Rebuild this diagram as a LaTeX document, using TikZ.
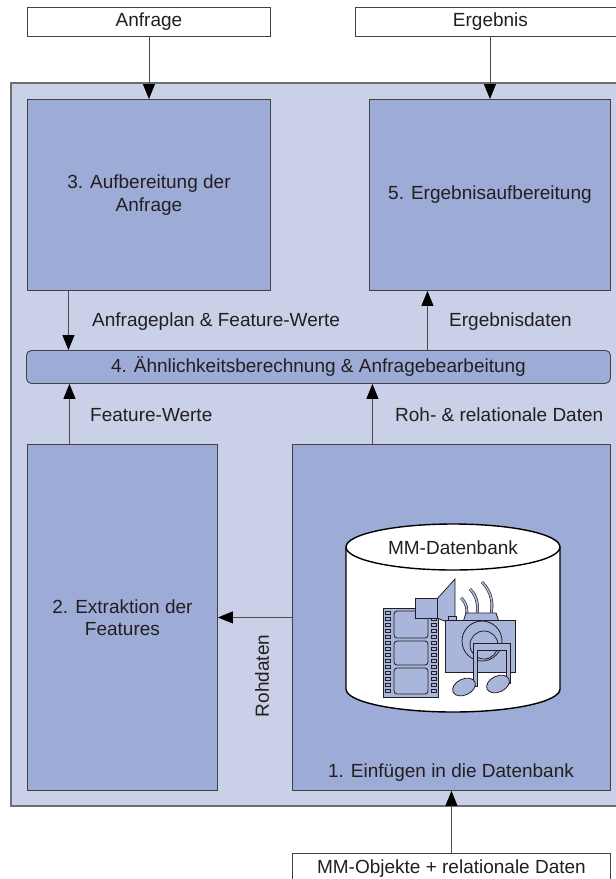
\documentclass[tikz,border=0pt]{standalone}
\usepackage{fontspec}
\setmainfont{Liberation Sans}
\usetikzlibrary{arrows.meta}
\definecolor{panelfill}{HTML}{C9D0E8}
\definecolor{boxfill}{HTML}{9DABD7}
\definecolor{iconfill}{HTML}{A9B5DA}
\definecolor{ink}{HTML}{231F20}
\definecolor{panelline}{HTML}{6D6E71}
\begin{document}
\begin{tikzpicture}[x=1pt,y=-1pt,
  font=\fontsize{19}{22.5}\selectfont, text=ink,
  box/.style={draw=ink!85, fill=boxfill, line width=0.9pt, anchor=north west,
    inner sep=0pt, align=center},
  iobox/.style={draw=ink!85, fill=white, line width=0.9pt, anchor=north west, inner sep=0pt},
  arr/.style={draw=ink!80, line width=0.8pt,
    -{Triangle[length=15pt 0, width=12pt 0, color=black]}},
  lbl/.style={anchor=west, inner sep=0pt},
  icon/.style={draw=ink, fill=iconfill, line width=0.8pt},
  wave/.style={draw=ink, double=iconfill, double distance=1.6pt, line width=0.6pt},
]
\useasboundingbox (0,0) rectangle (616,879);

% system panel
\path[fill=panelfill, draw=panelline, line width=1.6pt] (11,83) rectangle (640,806);

% input / output boxes
\node[iobox, minimum width=243pt, minimum height=29pt] (anf) at (27,7) {Anfrage};
\node[iobox, minimum width=270pt, minimum height=29pt] (erg) at (355,7) {Ergebnis};
\node[iobox, minimum width=318pt, minimum height=30pt] (mmo) at (292,853) {MM-Objekte + relationale Daten};

% processing steps
\node[box, minimum width=243pt, minimum height=191pt] (b3) at (27,99) {3. Aufbereitung der\\Anfrage};
\node[box, minimum width=241pt, minimum height=191pt] (b5) at (369,99) {5. Ergebnisaufbereitung};
\node[box, rounded corners=5pt, minimum width=584pt, minimum height=33pt] (b4) at (26,350)
  {4. Ähnlichkeitsberechnung \& Anfragebearbeitung};
\node[box, minimum width=190pt, minimum height=346pt] (b2) at (27,444) {2. Extraktion der\\Features};
\node[box, minimum width=318pt, minimum height=346pt] (b1) at (292,444) {};
\node[anchor=base, inner sep=0pt] (b1t) at (451,777) {1. Einfügen in die Datenbank};

% connectors
\draw[arr] (anf) -- (b3);
\draw[arr] (b5.north |- erg.south) -- (b5.north);
\draw[arr] ([xshift=-80.5pt]b3.south) -- ([xshift=-80.5pt]b3.south |- b4.north);
\draw[arr] ([xshift=-62.5pt]b5.south |- b4.north) -- ([xshift=-62.5pt]b5.south);
\draw[arr] ([xshift=-53pt]b2.north) -- ([xshift=-53pt]b2.north |- b4.south);
\draw[arr] ([xshift=-79pt]b1.north) -- ([xshift=-79pt]b1.north |- b4.south);
\draw[arr] (b2.east -| b1.west) -- (b2.east);
\draw[arr] (mmo) -- (b1);

% connector labels
\node[lbl] (l1) at (92,322) {Anfrageplan \& Feature-Werte};
\node[lbl] (l2) at (449,322) {Ergebnisdaten};
\node[lbl] (l3) at (90,415) {Feature-Werte};
\node[lbl] (l4) at (395,415) {Roh- \& relationale Daten};
\node[rotate=90, inner sep=0pt] (l5) at (262,676) {Rohdaten};

% database cylinder
\path[fill=white, draw=black, line width=1.4pt] (346,547) -- (346,689)
  arc[start angle=180, end angle=360, x radius=107pt, y radius=23pt] -- (560,547);
\draw[line width=1.4pt, fill=white] (453,547) ellipse [x radius=107pt, y radius=23pt];
\node (db) at (453,548) {MM-Datenbank};

% film strip
\draw[icon] (383,608) rectangle (438,697);
\foreach \yy in {611,617,...,691} {
  \draw[draw=ink, line width=0.5pt] (385.5,\yy) rectangle (390.5,\yy+3.5);
  \draw[draw=ink, line width=0.5pt] (431.5,\yy) rectangle (436,\yy+3.5);
}
\draw[icon, rounded corners=3pt] (394,611) rectangle (428,638);
\draw[icon, rounded corners=3pt] (394,641) rectangle (428,665);
\draw[icon, rounded corners=3pt] (394,668) rectangle (428,694);

% loudspeaker with sound waves
\draw[icon] (437,599) -- (455,579) -- (455,625) -- (437,618) -- cycle;
\draw[icon] (415,598) rectangle (437,618);
\draw[wave] (461,598) .. controls (467,603) and (468,610) .. (466,618);
\draw[wave] (470,589) .. controls (478,597) and (479,608) .. (476,618);
\draw[wave] (482,582) .. controls (492,592) and (494,605) .. (490,618);

% camera
\draw[icon] (463,622) -- (466,613) -- (496,613) -- (499,622) -- cycle;
\draw[icon] (448,616) rectangle (456,621);
\draw[icon] (445,620) rectangle (515,672);
\draw[icon] (482,641) circle [radius=20pt];
\draw[icon] (484,645) circle [radius=14pt];

% musical notes
\draw[icon] (473,643) -- (510,643) -- (510,683) -- (506,683) -- (506,650)
  -- (477,650) -- (477,686) -- (473,686) -- cycle;
\draw[icon, rotate around={25:(464,687)}] (464,687) ellipse [x radius=12pt, y radius=8pt];
\draw[icon, rotate around={25:(498,684)}] (498,684) ellipse [x radius=12pt, y radius=8pt];
\end{tikzpicture}
\end{document}
